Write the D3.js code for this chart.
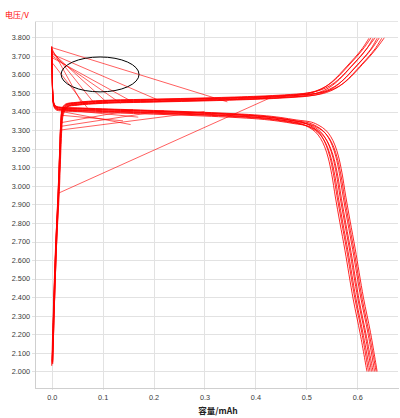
<!DOCTYPE html>
<html><head><meta charset="utf-8">
<script src="https://cdn.jsdelivr.net/npm/d3@7/dist/d3.min.js"></script>
<style>html,body{margin:0;padding:0;background:#fff;}svg{display:block;}</style>
</head><body>
<script>
// ---- data (capacity mAh, voltage V) ----
const xTicks = [0.0, 0.1, 0.2, 0.3, 0.4, 0.5, 0.6];
const yTicks = [2.0, 2.1, 2.2, 2.3, 2.4, 2.5, 2.6, 2.7, 2.8, 2.9, 3.0, 3.1, 3.2, 3.3, 3.4, 3.5, 3.6, 3.7, 3.8];
const yLabel = "电压/V";
const xLabel = "容量/mAh";

const charge1 = [[0,2.03],[0.004,2.4],[0.008,2.7],[0.013,2.96],[0.016,3.2],[0.018,3.33],[0.021,3.40],[0.028,3.43],[0.05,3.44],[0.1,3.45],[0.2,3.457],[0.3,3.464],[0.4,3.473],[0.45,3.48],[0.49,3.49],[0.515,3.505],[0.535,3.53],[0.55,3.56],[0.565,3.6],[0.58,3.645],[0.595,3.69],[0.61,3.74],[0.623,3.795]];
const charge2 = [[0.001,2.05],[0.005,2.45],[0.009,2.75],[0.013,3.0],[0.016,3.22],[0.018,3.34],[0.021,3.41],[0.028,3.436],[0.05,3.446],[0.1,3.456],[0.2,3.463],[0.302,3.47],[0.402,3.479],[0.453,3.486],[0.494,3.496],[0.519,3.511],[0.539,3.536],[0.554,3.566],[0.569,3.606],[0.584,3.651],[0.599,3.696],[0.614,3.746],[0.627,3.797]];
const charge3 = [[0.002,2.04],[0.006,2.42],[0.01,2.72],[0.014,2.98],[0.017,3.18],[0.019,3.32],[0.022,3.39],[0.03,3.426],[0.05,3.436],[0.1,3.446],[0.2,3.453],[0.305,3.46],[0.405,3.469],[0.456,3.476],[0.498,3.486],[0.523,3.501],[0.543,3.526],[0.558,3.556],[0.573,3.596],[0.588,3.641],[0.603,3.686],[0.618,3.736],[0.631,3.795]];
const charge4 = [[0.001,2.06],[0.005,2.43],[0.009,2.74],[0.013,2.99],[0.016,3.21],[0.018,3.35],[0.021,3.42],[0.027,3.44],[0.05,3.45],[0.1,3.46],[0.2,3.467],[0.307,3.474],[0.407,3.483],[0.457,3.49],[0.502,3.5],[0.527,3.515],[0.547,3.54],[0.562,3.57],[0.577,3.61],[0.592,3.655],[0.607,3.7],[0.622,3.75],[0.635,3.797]];
const charge5 = [[0.002,2.05],[0.006,2.41],[0.01,2.71],[0.015,2.97],[0.018,3.19],[0.02,3.31],[0.023,3.385],[0.031,3.424],[0.05,3.434],[0.1,3.444],[0.2,3.451],[0.31,3.458],[0.41,3.467],[0.46,3.474],[0.506,3.484],[0.531,3.499],[0.551,3.524],[0.566,3.554],[0.581,3.594],[0.596,3.639],[0.611,3.684],[0.626,3.734],[0.639,3.795]];
const charge6 = [[0.001,2.04],[0.005,2.44],[0.009,2.73],[0.014,2.98],[0.017,3.2],[0.019,3.33],[0.022,3.405],[0.029,3.434],[0.05,3.444],[0.1,3.454],[0.2,3.461],[0.312,3.468],[0.412,3.477],[0.462,3.484],[0.51,3.494],[0.535,3.509],[0.555,3.534],[0.57,3.564],[0.585,3.604],[0.6,3.649],[0.615,3.694],[0.63,3.744],[0.643,3.796]];
const charge7 = [[0.002,2.06],[0.006,2.42],[0.01,2.72],[0.014,2.97],[0.017,3.19],[0.019,3.32],[0.022,3.395],[0.03,3.428],[0.05,3.438],[0.1,3.448],[0.2,3.455],[0.315,3.462],[0.415,3.471],[0.465,3.478],[0.515,3.488],[0.54,3.503],[0.56,3.528],[0.575,3.558],[0.59,3.598],[0.605,3.643],[0.62,3.688],[0.635,3.738],[0.648,3.795]];
const charge8 = [[0.001,2.05],[0.005,2.4],[0.009,2.7],[0.013,2.97],[0.016,3.2],[0.018,3.34],[0.021,3.415],[0.028,3.438],[0.05,3.448],[0.1,3.458],[0.2,3.465],[0.318,3.472],[0.418,3.481],[0.468,3.488],[0.52,3.498],[0.545,3.513],[0.565,3.538],[0.58,3.568],[0.595,3.608],[0.61,3.653],[0.625,3.698],[0.64,3.748],[0.653,3.797]];

const discharge1 = [[0,3.75],[0.001,3.62],[0.002,3.5],[0.004,3.44],[0.008,3.42],[0.02,3.413],[0.05,3.41],[0.1,3.405],[0.2,3.396],[0.3,3.386],[0.4,3.37],[0.44,3.358],[0.47,3.345],[0.49,3.333],[0.505,3.315],[0.518,3.29],[0.528,3.255],[0.536,3.21],[0.543,3.15],[0.55,3.06],[0.557,2.94],[0.566,2.8],[0.576,2.65],[0.592,2.39],[0.606,2.2],[0.619,2.0]];
const discharge2 = [[0,3.74],[0.001,3.6],[0.002,3.5],[0.004,3.445],[0.008,3.428],[0.02,3.421],[0.05,3.418],[0.1,3.413],[0.2,3.404],[0.3,3.394],[0.401,3.378],[0.442,3.366],[0.472,3.353],[0.493,3.341],[0.508,3.323],[0.521,3.298],[0.531,3.263],[0.539,3.218],[0.546,3.158],[0.553,3.068],[0.56,2.948],[0.569,2.808],[0.579,2.658],[0.595,2.398],[0.609,2.208],[0.622,2.0]];
const discharge3 = [[0,3.73],[0.001,3.6],[0.002,3.49],[0.004,3.435],[0.008,3.415],[0.02,3.408],[0.05,3.405],[0.1,3.4],[0.2,3.391],[0.3,3.381],[0.403,3.365],[0.443,3.353],[0.473,3.34],[0.496,3.328],[0.511,3.31],[0.524,3.285],[0.534,3.25],[0.542,3.205],[0.549,3.145],[0.556,3.055],[0.563,2.935],[0.572,2.795],[0.582,2.645],[0.598,2.385],[0.612,2.195],[0.625,2.0]];
const discharge4 = [[0,3.75],[0.001,3.61],[0.002,3.5],[0.004,3.442],[0.008,3.424],[0.02,3.417],[0.05,3.414],[0.1,3.409],[0.2,3.4],[0.3,3.39],[0.404,3.374],[0.445,3.362],[0.475,3.349],[0.499,3.337],[0.514,3.319],[0.527,3.294],[0.537,3.259],[0.545,3.214],[0.552,3.154],[0.559,3.064],[0.566,2.944],[0.575,2.804],[0.585,2.654],[0.601,2.394],[0.615,2.204],[0.628,2.0]];
const discharge5 = [[0,3.72],[0.001,3.58],[0.002,3.48],[0.004,3.43],[0.008,3.41],[0.02,3.403],[0.05,3.4],[0.1,3.395],[0.2,3.386],[0.3,3.376],[0.406,3.36],[0.446,3.348],[0.476,3.335],[0.502,3.323],[0.517,3.305],[0.53,3.28],[0.54,3.245],[0.548,3.2],[0.555,3.14],[0.562,3.05],[0.569,2.93],[0.578,2.79],[0.588,2.64],[0.604,2.38],[0.618,2.19],[0.631,2.0]];
const discharge6 = [[0,3.74],[0.001,3.61],[0.002,3.5],[0.004,3.444],[0.008,3.426],[0.02,3.419],[0.05,3.416],[0.1,3.411],[0.2,3.402],[0.3,3.392],[0.407,3.376],[0.447,3.364],[0.477,3.351],[0.505,3.339],[0.52,3.321],[0.533,3.296],[0.543,3.261],[0.551,3.216],[0.558,3.156],[0.565,3.066],[0.572,2.946],[0.581,2.806],[0.591,2.656],[0.607,2.396],[0.621,2.206],[0.634,2.0]];
const discharge7 = [[0,3.73],[0.001,3.59],[0.002,3.49],[0.004,3.437],[0.008,3.417],[0.02,3.41],[0.05,3.407],[0.1,3.402],[0.2,3.393],[0.3,3.383],[0.409,3.367],[0.449,3.355],[0.479,3.342],[0.508,3.33],[0.523,3.312],[0.536,3.287],[0.546,3.252],[0.554,3.207],[0.561,3.147],[0.568,3.057],[0.575,2.937],[0.584,2.797],[0.594,2.647],[0.61,2.387],[0.624,2.197],[0.637,2.0]];
const discharge8 = [[0,3.75],[0.001,3.62],[0.002,3.51],[0.004,3.45],[0.008,3.43],[0.02,3.423],[0.05,3.42],[0.1,3.415],[0.2,3.406],[0.3,3.396],[0.41,3.38],[0.45,3.368],[0.48,3.355],[0.51,3.343],[0.525,3.325],[0.538,3.3],[0.548,3.265],[0.556,3.22],[0.563,3.16],[0.57,3.07],[0.577,2.95],[0.586,2.81],[0.596,2.66],[0.612,2.4],[0.626,2.21],[0.639,2.0]];

// straight jumps between records
const jumps = [
  [[0.0,3.745],[0.345,3.452]],
  [[0.0,3.74],[0.06,3.44]],
  [[0.0,3.73],[0.085,3.44]],
  [[0.0,3.72],[0.11,3.445]],
  [[0.001,3.70],[0.135,3.445]],
  [[0.001,3.69],[0.16,3.45]],
  [[0.0,3.71],[0.215,3.455]],
  [[0.002,3.66],[0.07,3.42]],
  [[0.013,2.96],[0.43,3.475]],
  [[0.016,3.30],[0.30,3.40]],
  [[0.017,3.32],[0.22,3.405]],
  [[0.018,3.34],[0.16,3.41]],
  [[0.02,3.40],[0.155,3.33]],
  [[0.019,3.38],[0.14,3.35]],
  [[0.022,3.41],[0.17,3.37]]
];

const chargeCurves = [charge1, charge2, charge3, charge4, charge5, charge6, charge7, charge8];
const dischargeCurves = [discharge1, discharge2, discharge3, discharge4, discharge5, discharge6, discharge7, discharge8];

// annotation ellipse: centre capacity, centre voltage, capacity radius, voltage radius
const ellipseCenter = [0.095, 3.60];
const ellipseRadius = [0.0765, 0.094];

// ---- drawing ----
const W = 400, H = 418;
const x = d3.scaleLinear().domain([-0.0328, 0.680]).range([35, 398]);
const y = d3.scaleLinear().domain([1.911, 3.884]).range([388, 21.7]);

const svg = d3.select("body").append("svg").attr("width", W).attr("height", H);

// grid
const grid = svg.append("g").attr("shape-rendering", "crispEdges");
grid.selectAll(".hg").data(yTicks).join("line")
  .attr("x1", 32).attr("x2", 398).attr("y1", d => Math.round(y(d)) + 0.5).attr("y2", d => Math.round(y(d)) + 0.5)
  .attr("stroke", "#e2e2e2");
grid.selectAll(".vg").data(xTicks).join("line")
  .attr("y1", 21.7).attr("y2", 390).attr("x1", d => Math.round(x(d)) + 0.5).attr("x2", d => Math.round(x(d)) + 0.5)
  .attr("stroke", "#e2e2e2");
grid.append("line").attr("x1", 35).attr("x2", 398).attr("y1", 21.5).attr("y2", 21.5).attr("stroke", "#e6e6e6");

// axes
const yAxis = d3.axisLeft(y).tickValues(yTicks).tickFormat(d3.format(".3f")).tickSize(0).tickPadding(5);
const gy = svg.append("g").attr("transform", "translate(35,0)").call(yAxis);
const xAxis = d3.axisBottom(x).tickValues(xTicks).tickFormat(d3.format(".1f")).tickSize(0).tickPadding(7);
const gx = svg.append("g").attr("transform", "translate(0,388)").call(xAxis);
[gx, gy].forEach(g => {
  g.select(".domain").attr("stroke", "#cfcfcf").attr("shape-rendering", "crispEdges");
  g.selectAll("text").attr("fill", "#3a3a3a").style("font-family", "'Liberation Sans', Arial, sans-serif").style("font-size", "7.3px");
});

// curves
const curveLine = d3.line().x(d => x(d[0])).y(d => y(d[1])).curve(d3.curveCatmullRom.alpha(0.5));
const straight = d3.line().x(d => x(d[0])).y(d => y(d[1]));
const plot = svg.append("g");
plot.selectAll(".jump").data(jumps).join("path")
  .attr("d", straight).attr("fill", "none").attr("stroke", "#ff0000").attr("stroke-width", 0.9).attr("stroke-opacity", 0.7);
plot.selectAll(".chg").data(chargeCurves).join("path")
  .attr("d", curveLine).attr("fill", "none").attr("stroke", "#ff0000").attr("stroke-width", 1).attr("stroke-opacity", 0.85);
plot.selectAll(".dis").data(dischargeCurves).join("path")
  .attr("d", curveLine).attr("fill", "none").attr("stroke", "#ff0000").attr("stroke-width", 1).attr("stroke-opacity", 0.85);

// ellipse annotation
svg.append("ellipse")
  .attr("cx", x(ellipseCenter[0])).attr("cy", y(ellipseCenter[1]))
  .attr("rx", x(ellipseCenter[0] + ellipseRadius[0]) - x(ellipseCenter[0]))
  .attr("ry", y(ellipseCenter[1]) - y(ellipseCenter[1] + ellipseRadius[1]))
  .attr("fill", "none").attr("stroke", "#000").attr("stroke-width", 1);

// labels
svg.append("text").attr("x", 5).attr("y", 17.5).text(yLabel)
  .attr("fill", "#ff0000").style("font-family", "'Noto Sans CJK SC', sans-serif").style("font-size", "8px");
svg.append("text").attr("x", 218).attr("y", 414).attr("text-anchor", "middle").text(xLabel)
  .attr("fill", "#222").style("font-family", "'Noto Sans CJK SC', serif").style("font-size", "8.5px").style("font-weight", "bold");
</script>
</body></html>
